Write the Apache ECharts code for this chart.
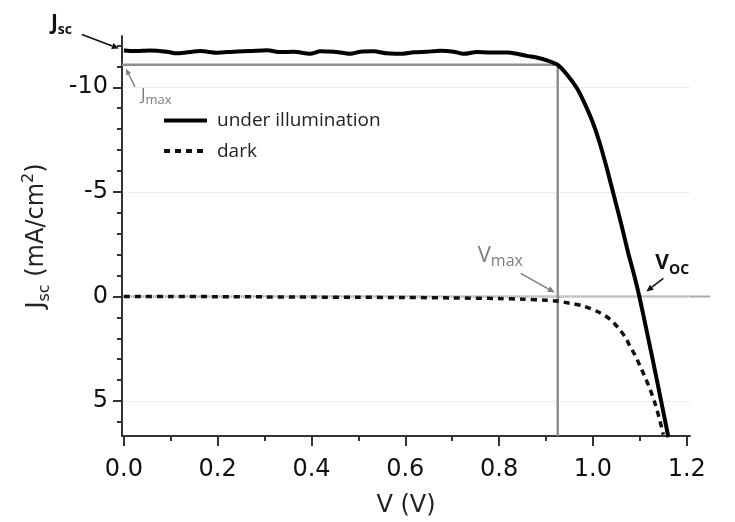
<!DOCTYPE html>
<html>
<head>
<meta charset="utf-8">
<script src="https://cdn.jsdelivr.net/npm/echarts@6/dist/echarts.min.js"></script>
<style>
html,body{margin:0;padding:0;background:#fff}
#chart{width:735px;height:522px}
</style>
</head>
<body>
<div id="chart"></div>
<script>
// J–V curve of a solar cell: current density (mA/cm²) against voltage (V)
const illumV = [0.000,0.021,0.056,0.092,0.113,0.135,0.163,0.199,0.234,0.270,0.305,0.334,0.362,0.397,0.419,0.447,0.483,0.504,0.532,0.561,0.589,0.618,0.646,0.675,0.703,0.724,0.753,0.781,0.817,0.838,0.859,0.880,0.902,0.925,0.945,0.966,0.985,1.000,1.015,1.030,1.045,1.060,1.075,1.087,1.099,1.118,1.136,1.161];
const illumJ = [-11.76,-11.73,-11.76,-11.70,-11.62,-11.67,-11.73,-11.65,-11.70,-11.73,-11.77,-11.68,-11.70,-11.60,-11.72,-11.70,-11.60,-11.70,-11.72,-11.62,-11.60,-11.67,-11.70,-11.74,-11.70,-11.60,-11.68,-11.66,-11.66,-11.60,-11.50,-11.42,-11.29,-11.07,-10.60,-9.95,-9.10,-8.30,-7.30,-6.10,-4.80,-3.50,-2.10,-1.10,0.00,2.00,3.95,6.73];

const darkV = [0.000,0.100,0.200,0.300,0.400,0.500,0.600,0.700,0.800,0.850,0.900,0.923,0.950,0.980,1.015,1.037,1.054,1.069,1.079,1.090,1.100,1.111,1.122,1.133,1.143,1.150];
const darkJ = [0.00,0.00,0.01,0.02,0.03,0.04,0.05,0.07,0.10,0.13,0.18,0.22,0.32,0.46,0.78,1.10,1.50,1.95,2.38,2.81,3.30,3.85,4.45,5.15,5.95,6.60];

// characteristic points
const jSc = -11.76;
const jMax = -11.07;
const vMax = 0.925;
const vOc = 1.099;

// axes
const xMin = -0.004, xMax = 1.207;
const yMin = -12.45, yMax = 6.67;
const xTicks = [0.0,0.2,0.4,0.6,0.8,1.0,1.2];
const xMinorTicks = [0.1,0.3,0.5,0.7,0.9,1.1];
const yTicks = [-10,-5,0,5];
const yMinorTicks = [-12,-11,-9,-8,-7,-6,-4,-3,-2,-1,1,2,3,4,6];
const zeroLineEnd = 1.25;

const legendNames = ['under illumination','dark'];

const zip = (a,b) => a.map((v,i) => [v,b[i]]);
const axisColor = '#333';
const tickFont = 'DejaVu Sans';

const chart = echarts.init(document.getElementById('chart'), null, {renderer:'canvas'});

const baseX = {type:'value', min:xMin, max:xMax, position:'bottom', gridIndex:0};
const baseY = {type:'value', min:yMin, max:yMax, inverse:true, position:'left', gridIndex:0};

chart.setOption({
  animation:false,
  backgroundColor:'#fff',
  grid:{left:122, right:45, top:36, bottom:86, containLabel:false, outerBoundsMode:'none'},
  legend:{
    orient:'vertical', left:162, top:111, padding:0,
    itemWidth:43, itemHeight:14, itemGap:11.6,
    data:legendNames,
    itemStyle:{opacity:0},
    lineStyle:{width:4},
    textStyle:{fontFamily:'Open Sans', fontSize:19, color:'#222', padding:[0,0,0,5]}
  },
  xAxis:[
    Object.assign({}, baseX, {
      name:'V (V)', nameLocation:'middle', nameGap:58,
      nameTextStyle:{fontFamily:tickFont, fontSize:24, color:'#222'},
      axisLine:{show:true, onZero:false, lineStyle:{color:axisColor, width:2}},
      axisTick:{show:true, customValues:xTicks, length:10, lineStyle:{color:axisColor, width:2}},
      axisLabel:{customValues:xTicks, formatter:v => v.toFixed(1), fontFamily:tickFont, fontSize:24, color:'#111', margin:22},
      splitLine:{show:false}
    }),
    Object.assign({}, baseX, {
      axisLine:{show:false, onZero:false},
      axisTick:{show:true, customValues:xMinorTicks, length:5, lineStyle:{color:axisColor, width:2}},
      axisLabel:{show:false}, splitLine:{show:false}
    })
  ],
  yAxis:[
    Object.assign({}, baseY, {
      name:'{j|J}{s|sc}{n| (mA/cm}{p|2}{n|)}', nameLocation:'middle', nameRotate:90, nameGap:69,
      nameTextStyle:{
        fontFamily:tickFont, fontSize:24, color:'#222',
        rich:{
          j:{fontFamily:tickFont, fontSize:24, color:'#222', lineHeight:32},
          s:{fontFamily:tickFont, fontSize:16, color:'#222', verticalAlign:'bottom', lineHeight:32},
          n:{fontFamily:tickFont, fontSize:24, color:'#222', lineHeight:32},
          p:{fontFamily:tickFont, fontSize:16, color:'#222', verticalAlign:'top', lineHeight:32}
        }
      },
      axisLine:{show:true, onZero:false, lineStyle:{color:axisColor, width:2}},
      axisTick:{show:true, customValues:yTicks, length:9, lineStyle:{color:axisColor, width:2}},
      axisLabel:{customValues:yTicks, formatter:v => String(v), fontFamily:tickFont, fontSize:24, color:'#111', margin:14},
      splitLine:{show:true, lineStyle:{color:'#ddd', width:1, type:'dotted'}}
    }),
    Object.assign({}, baseY, {
      axisLine:{show:false, onZero:false},
      axisTick:{show:true, customValues:yMinorTicks, length:5, lineStyle:{color:axisColor, width:2}},
      axisLabel:{show:false}, splitLine:{show:false}
    })
  ],
  series:[
    {
      name:'maxPower', type:'line', xAxisIndex:0, yAxisIndex:0, z:1,
      data:[[xMin,jMax],[vMax,jMax],[vMax,yMax]], symbol:'none', silent:true,
      lineStyle:{color:'#8f8f8f', width:2.5}
    },
    {
      name:'dark', type:'line', xAxisIndex:0, yAxisIndex:0, z:3,
      data:zip(darkV,darkJ), symbol:'none', smooth:0.3,
      itemStyle:{color:'#111'},
      lineStyle:{color:'#111', width:3.5, type:[6,5]}
    },
    {
      name:'under illumination', type:'line', xAxisIndex:0, yAxisIndex:0, z:4,
      data:zip(illumV,illumJ), symbol:'none', smooth:0.25,
      itemStyle:{color:'#000'},
      lineStyle:{color:'#000', width:4}
    }
  ]
});

// annotations anchored at the characteristic points
function px(x,y){ return chart.convertToPixel({xAxisIndex:0, yAxisIndex:0}, [x,y]); }
function arrow(x1,y1,x2,y2,color,w,head){
  const a = Math.atan2(y2-y1, x2-x1);
  const hx = x2 - head*Math.cos(a), hy = y2 - head*Math.sin(a);
  const nx = -Math.sin(a)*head*0.45, ny = Math.cos(a)*head*0.45;
  return [
    {type:'line', silent:true, shape:{x1:x1,y1:y1,x2:hx,y2:hy}, style:{stroke:color, lineWidth:w}},
    {type:'polygon', silent:true, shape:{points:[[x2,y2],[hx+nx,hy+ny],[hx-nx,hy-ny]]}, style:{fill:color}}
  ];
}
function label(x,y,main,sub,color,mainSize,subSize,weight){
  return {type:'text', silent:true, x:x, y:y, style:{
    text:'{m|'+main+'}{s|'+sub+'}', verticalAlign:'middle', align:'left',
    rich:{
      m:{fontFamily:'Open Sans', fontSize:mainSize, fontWeight:weight, fill:color, lineHeight:mainSize+6},
      s:{fontFamily:'Open Sans', fontSize:subSize, fontWeight:weight, fill:color, verticalAlign:'bottom', lineHeight:mainSize+6}
    }
  }};
}

const pSc = px(0, jSc);
const pJm = px(xMin, jMax);
const pVm = px(vMax, 0);
const pOc = px(vOc, 0);
const pZ0 = px(xMin, 0);
const pZ1 = px(zeroLineEnd, 0);
const grey = '#7d7d7d';
let els = [];
// horizontal J = 0 reference line, running a little past the axis end
els.push({type:'line', silent:true, z:-1, shape:{x1:pZ0[0], y1:pZ0[1], x2:pZ1[0], y2:pZ1[1]}, style:{stroke:'#aaa', lineWidth:2}});
els.push(label(pSc[0]-73, pSc[1]-27, 'J', 'sc', '#111', 21, 14, 'bold'));
els = els.concat(arrow(pSc[0]-42, pSc[1]-16, pSc[0]-5, pSc[1]-2, '#111', 1.6, 7));
els.push(label(pJm[0]+19, pJm[1]+30, 'J', 'max', grey, 17, 13, 'normal'));
els = els.concat(arrow(pJm[0]+13, pJm[1]+22, pJm[0]+4, pJm[1]+4, grey, 1.4, 6));
els.push(label(pVm[0]-80, pVm[1]-41, 'V', 'max', grey, 22, 16, 'normal'));
els = els.concat(arrow(pVm[0]-37, pVm[1]-23, pVm[0]-3, pVm[1]-4, grey, 1.4, 7));
els.push(label(pOc[0]+16, pOc[1]-33, 'V', 'OC', '#111', 21, 14, 'bold'));
els = els.concat(arrow(pOc[0]+24, pOc[1]-18, pOc[0]+7, pOc[1]-5, '#111', 1.6, 7));
chart.setOption({graphic:els});
</script>
</body>
</html>
